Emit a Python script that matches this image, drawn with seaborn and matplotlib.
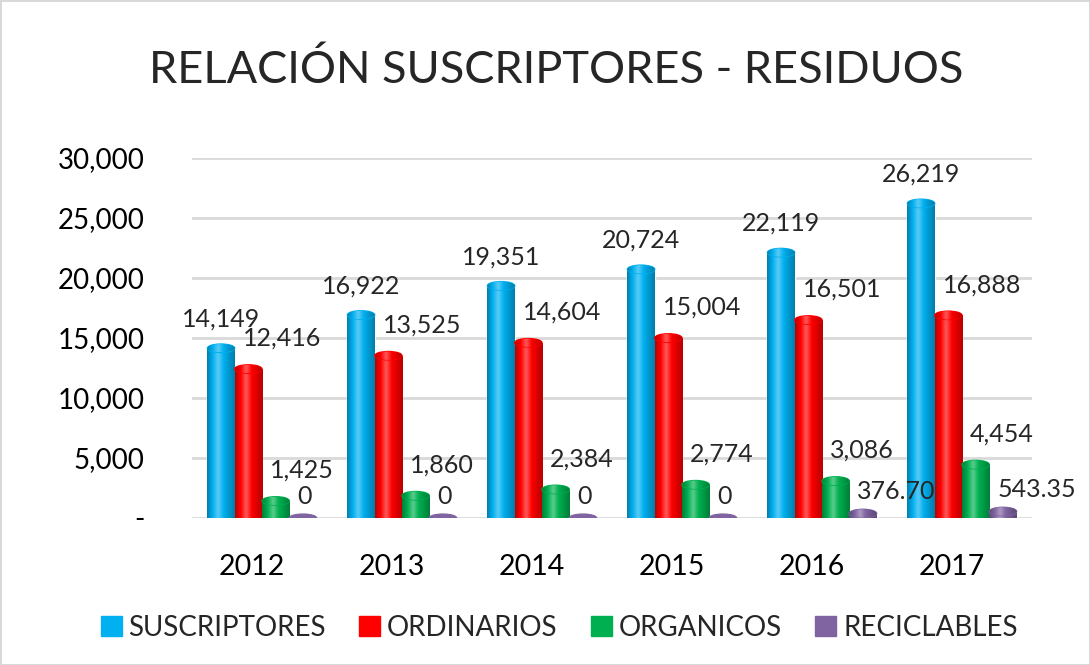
import numpy as np
import pandas as pd
import matplotlib
matplotlib.use("Agg")
import matplotlib.pyplot as plt
import seaborn as sns
from matplotlib.patches import Ellipse
from matplotlib.colors import LinearSegmentedColormap, to_rgb
from matplotlib.transforms import ScaledTranslation
from matplotlib.ticker import FuncFormatter

# datos
years = ["2012", "2013", "2014", "2015", "2016", "2017"]
suscriptores = [14149, 16922, 19351, 20724, 22119, 26219]
ordinarios = [12416, 13525, 14604, 15004, 16501, 16888]
organicos = [1425, 1860, 2384, 2774, 3086, 4454]
reciclables = [0, 0, 0, 0, 376.70, 543.35]
series = ["SUSCRIPTORES", "ORDINARIOS", "ORGANICOS", "RECICLABLES"]
colors = ["#00B0F0", "#FF0000", "#00B050", "#8064A2"]

df = pd.DataFrame({
    "year": years * 4,
    "serie": [s for s in series for _ in years],
    "value": suscriptores + ordinarios + organicos + reciclables,
})

sns.set_theme(style="white")
plt.rcParams["font.family"] = ["Lato", "DejaVu Sans"]

fig = plt.figure(figsize=(10.9, 6.65), dpi=100)
fig.patch.set_edgecolor("#D9D9D9")
fig.patch.set_linewidth(2)
ax = fig.add_axes([192 / 1090, 147 / 665, 840 / 1090, 360 / 665])

sns.barplot(data=df, x="year", y="value", hue="serie", palette=colors,
            width=0.78, saturation=1, ax=ax, legend=True, zorder=3)

ax.set_ylim(0, 30000)
xlim = ax.get_xlim()
ax.set_yticks(range(0, 30001, 5000))
ax.yaxis.set_major_formatter(FuncFormatter(lambda v, p: "-" if v == 0 else f"{v:,.0f}"))
ax.grid(axis="y", color="#D9D9D9", linewidth=2, zorder=0)
ax.set_axisbelow(True)
for sp in ax.spines.values():
    sp.set_visible(False)
ax.set_xlabel("")
ax.set_ylabel("")
ax.tick_params(axis="y", labelsize=20, pad=34, length=0, colors="black")
ax.tick_params(axis="x", labelsize=20.5, pad=26, length=0, colors="black")
for lbl in ax.get_xticklabels():
    lbl.set_transform(lbl.get_transform() + ScaledTranslation(-0.10, 0, fig.dpi_scale_trans))


def shade(c):
    # sombreado tipo cilindro
    r = np.array(to_rgb(c))
    dark = r * 0.72
    light = r + (1 - r) * 0.35
    return LinearSegmentedColormap.from_list("cyl", [dark, r, light, r, r * 0.85, dark])


grad = np.linspace(0, 1, 64).reshape(1, -1)
dome = 700

for i, cont in enumerate(ax.containers):
    cmap = shade(colors[i])
    for bar in cont:
        v = bar.get_height()
        x0, w = bar.get_x(), bar.get_width()
        cx = x0 + w / 2
        if v > 0:
            im = ax.imshow(grad, cmap=cmap, extent=(x0, x0 + w, 0, v), aspect="auto",
                           interpolation="bicubic", zorder=3.5)
            im.set_clip_path(bar)
            cap = Ellipse((cx, v), w, dome, color=colors[i], zorder=3.6)
            ax.add_patch(cap)
            im2 = ax.imshow(grad, cmap=cmap, extent=(x0, x0 + w, v - dome / 2, v + dome / 2),
                            aspect="auto", interpolation="bicubic", zorder=3.7)
            im2.set_clip_path(cap)
        else:
            ax.add_patch(Ellipse((cx, 0), w, 650, color=colors[i], zorder=4))

        txt = f"{v:,.0f}" if float(v).is_integer() else f"{v:,.2f}"
        if i == 0:
            ax.annotate(txt, (cx, v), xytext=(0, 21), textcoords="offset points",
                        ha="center", va="center", fontsize=18, zorder=6)
        elif i == 3:
            ax.annotate(txt, (cx, v), xytext=(-4, 15.5), textcoords="offset points",
                        ha="left", va="center", fontsize=18, zorder=6)
        else:
            ax.annotate(txt, (cx, v), xytext=(-4, 22), textcoords="offset points",
                        ha="left", va="center", fontsize=18, zorder=6)

ax.set_xlim(xlim)
ax.set_ylim(0, 30000)

ax.legend_.remove()
handles = [plt.Rectangle((0, 0), 1, 1, color=c) for c in colors]
fig.legend(handles, series, loc="center", bbox_to_anchor=(0.513, 1 - 628 / 665), ncol=4,
           frameon=False, fontsize=20, handlelength=0.75, handleheight=0.75,
           handletextpad=0.25, columnspacing=1.2)

fig.text(0.51, 1 - 70 / 665, "RELACIÓN SUSCRIPTORES - RESIDUOS", ha="center", va="center",
         fontsize=32.5)

fig.savefig("out.png", dpi=100, edgecolor=fig.get_edgecolor())
